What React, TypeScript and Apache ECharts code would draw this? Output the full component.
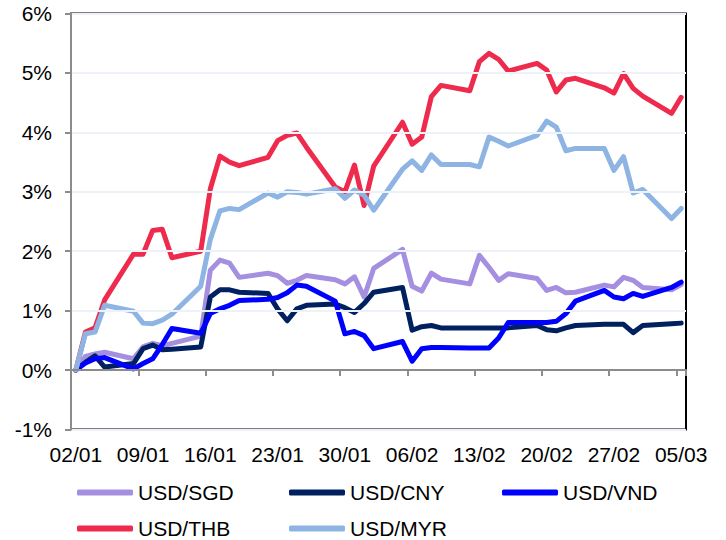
import React, { useEffect, useRef } from "react";
import * as echarts from "echarts";

// Every calendar day on the axis (02/01 .. 05/03)
const axisDays = [
  "02/01", "03/01", "04/01", "05/01", "06/01", "07/01", "08/01",
  "09/01", "10/01", "11/01", "12/01", "13/01", "14/01", "15/01",
  "16/01", "17/01", "18/01", "19/01", "20/01", "21/01", "22/01",
  "23/01", "24/01", "25/01", "26/01", "27/01", "28/01", "29/01",
  "30/01", "31/01", "01/02", "02/02", "03/02", "04/02", "05/02",
  "06/02", "07/02", "08/02", "09/02", "10/02", "11/02", "12/02",
  "13/02", "14/02", "15/02", "16/02", "17/02", "18/02", "19/02",
  "20/02", "21/02", "22/02", "23/02", "24/02", "25/02", "26/02",
  "27/02", "28/02", "29/02", "01/03", "02/03", "03/03", "04/03",
  "05/03",
];

// Trading days with observations
const tradeDates = [
  "02/01", "03/01", "04/01", "05/01",
  "08/01", "09/01", "10/01", "11/01", "12/01",
  "15/01", "16/01", "17/01", "18/01", "19/01",
  "22/01", "23/01", "24/01", "25/01", "26/01",
  "29/01", "30/01", "31/01", "01/02", "02/02",
  "05/02", "06/02", "07/02", "08/02", "09/02",
  "12/02", "13/02", "14/02", "15/02", "16/02",
  "19/02", "20/02", "21/02", "22/02", "23/02",
  "26/02", "27/02", "28/02", "29/02", "01/03",
  "04/03", "05/03",
];

const sgd = [
  0, 0.23, 0.27, 0.30,
  0.19, 0.39, 0.45, 0.41, 0.45,
  0.57, 1.68, 1.85, 1.80, 1.56,
  1.63, 1.59, 1.46, 1.51, 1.59,
  1.52, 1.45, 1.57, 1.23, 1.71,
  2.03, 1.41, 1.33, 1.63, 1.53,
  1.45, 1.93, 1.73, 1.51, 1.62,
  1.54, 1.34, 1.39, 1.30, 1.31,
  1.43, 1.40, 1.56, 1.51, 1.39,
  1.35, 1.44,
];

const cny = [
  0, 0.13, 0.24, 0.05,
  0.11, 0.36, 0.42, 0.34, 0.35,
  0.39, 1.23, 1.35, 1.35, 1.31,
  1.29, 1.03, 0.83, 1.03, 1.09,
  1.11, 1.05, 0.97, 1.12, 1.31,
  1.39, 0.67, 0.73, 0.75, 0.71,
  0.71, 0.71, 0.71, 0.71, 0.71,
  0.75, 0.68, 0.66, 0.71, 0.75,
  0.77, 0.77, 0.77, 0.63, 0.75,
  0.78, 0.79,
];

const vnd = [
  0, 0.12, 0.19, 0.21,
  0.02, 0.11, 0.19, 0.43, 0.70,
  0.62, 0.95, 1.03, 1.09, 1.17,
  1.19, 1.22, 1.30, 1.43, 1.41,
  1.16, 0.61, 0.65, 0.58, 0.36,
  0.48, 0.15, 0.36, 0.38, 0.38,
  0.37, 0.37, 0.37, 0.54, 0.80,
  0.80, 0.80, 0.82, 0.95, 1.16,
  1.34, 1.23, 1.20, 1.29, 1.24,
  1.39, 1.48,
];

const thb = [
  0, 0.64, 0.71, 1.18,
  1.95, 1.95, 2.35, 2.37, 1.89,
  2.0, 3.05, 3.6, 3.5, 3.44,
  3.58, 3.86, 3.95, 3.99, 3.75,
  3.08, 3.0, 3.45, 2.77, 3.43,
  4.17, 3.8, 3.92, 4.6, 4.79,
  4.70, 5.19, 5.33, 5.23, 5.03,
  5.16, 5.05, 4.68, 4.88, 4.91,
  4.75, 4.66, 4.99, 4.74, 4.61,
  4.32, 4.59,
];

const myr = [
  0, 0.61, 0.64, 1.09,
  0.99, 0.79, 0.78, 0.84, 0.94,
  1.41, 2.2, 2.68, 2.72, 2.70,
  2.98, 2.91, 3.0, 2.99, 2.96,
  3.05, 2.89, 3.03, 2.94, 2.69,
  3.38, 3.52, 3.36, 3.62, 3.46,
  3.46, 3.42, 3.92, 3.85, 3.77,
  3.95, 4.19, 4.09, 3.69, 3.73,
  3.73, 3.36, 3.59, 2.98, 3.04,
  2.55, 2.72,
];

const seriesNames = ["USD/SGD", "USD/CNY", "USD/VND", "USD/THB", "USD/MYR"];
const seriesValues = [sgd, cny, vnd, thb, myr];
const seriesColors = ["#A48FE0", "#002060", "#0000FF", "#EE2B4D", "#8DB4E2"];
const yTicks = [-1, 0, 1, 2, 3, 4, 5, 6];

const FONT = "'Liberation Sans', Arial, sans-serif";

const legendPos = [
  { left: 77, top: 482 },
  { left: 289, top: 482 },
  { left: 502, top: 482 },
  { left: 77, top: 518 },
  { left: 289, top: 518 },
];

export default function App() {
  const ref = useRef<HTMLDivElement>(null);

  useEffect(() => {
    if (!ref.current) return;
    const chart = echarts.init(ref.current, null, { renderer: "svg" });

    const series = seriesNames.map((name, i) => ({
      name,
      type: "line",
      xAxisIndex: 0,
      yAxisIndex: 0,
      data: tradeDates.map((d, j) => [d, seriesValues[i][j]]),
      showSymbol: false,
      symbol: "none",
      lineStyle: { color: seriesColors[i], width: 5, cap: "round", join: "round" },
      itemStyle: { color: seriesColors[i] },
      z: 2 + i,
    }));

    const legends = seriesNames.map((name, i) => ({
      data: [name],
      left: legendPos[i].left,
      top: legendPos[i].top,
      padding: 0,
      itemWidth: 56,
      itemHeight: 6,
      icon: "roundRect",
      selectedMode: false,
      textStyle: { fontSize: 21, color: "#000", fontFamily: FONT },
    }));

    chart.setOption({
      animation: false,
      backgroundColor: "#fff",
      grid: {
        left: 71,
        right: 40,
        top: 13.5,
        bottom: 110.5,
        show: true,
        borderColor: "#000",
        borderWidth: 2,
        backgroundColor: "transparent",
      },
      legend: legends,
      xAxis: [
        {
          type: "category",
          data: axisDays,
          position: "bottom",
          boundaryGap: true,
          axisLine: { show: true, onZero: true, lineStyle: { color: "#8C8C8C", width: 2 } },
          axisTick: { show: true, interval: 6, length: 6, lineStyle: { color: "#8C8C8C", width: 2 } },
          axisLabel: { show: false, interval: 6 },
          splitLine: { show: false },
          z: 10,
        },
        {
          type: "category",
          data: axisDays,
          position: "bottom",
          boundaryGap: true,
          axisLine: { show: false, onZero: false },
          axisTick: { show: false },
          axisLabel: {
            show: true,
            interval: 6,
            margin: 14,
            fontSize: 21,
            color: "#000",
            fontFamily: FONT,
          },
          splitLine: { show: false },
        },
      ],
      yAxis: {
        type: "value",
        min: yTicks[0],
        max: yTicks[yTicks.length - 1],
        interval: 1,
        axisLine: { show: true, onZero: false, lineStyle: { color: "#8C8C8C", width: 2 } },
        axisTick: { show: true, length: 6, lineStyle: { color: "#8C8C8C", width: 2 } },
        axisLabel: {
          formatter: (v: number) => `${v}%`,
          margin: 19,
          fontSize: 21,
          color: "#000",
          fontFamily: FONT,
        },
        splitLine: { show: true, lineStyle: { color: "#EDF2F8", width: 2 } },
        z: 10,
      },
      series,
    });

    return () => chart.dispose();
  }, []);

  return (
    <div
      ref={ref}
      style={{ position: "absolute", left: 0, top: 0, width: 726, height: 540 }}
    />
  );
}
